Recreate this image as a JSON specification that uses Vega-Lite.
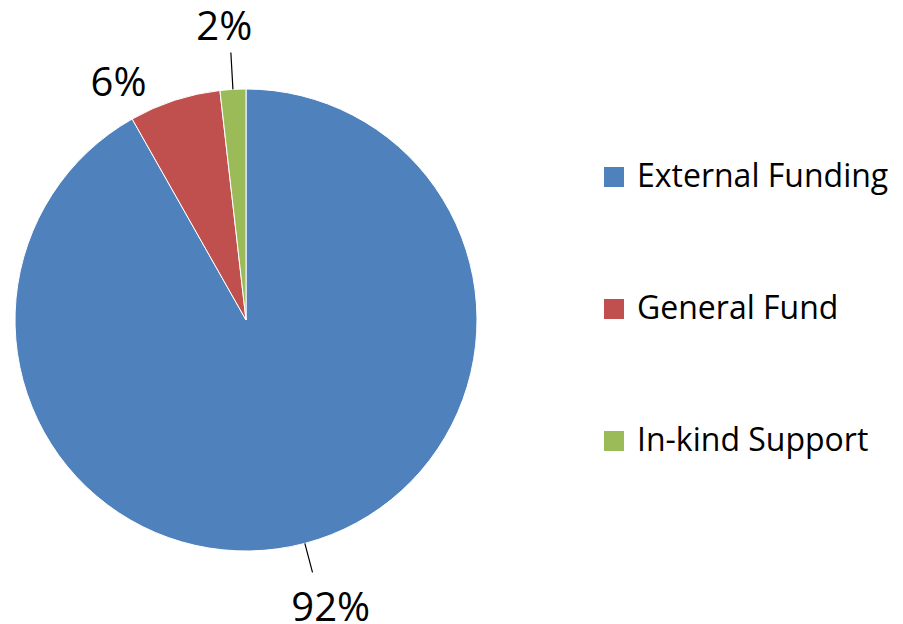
{
  "$schema": "https://vega.github.io/schema/vega-lite/v6.json",
  "width": 492,
  "height": 600,
  "autosize": {"type": "none"},
  "padding": {"left": 0, "top": 20, "right": 411, "bottom": 4},
  "background": "white",
  "config": {"view": {"stroke": null}},
  "data": {
    "values": [
      {"category": "External Funding", "value": 91.8, "label": "92%"},
      {"category": "General Fund", "value": 6.4, "label": "6%"},
      {"category": "In-kind Support", "value": 1.8, "label": "2%"}
    ]
  },
  "layer": [
    {
      "mark": {"type": "arc", "outerRadius": 231, "stroke": "white", "strokeWidth": 1},
      "encoding": {
        "theta": {"field": "value", "type": "quantitative", "stack": true, "scale": {"domain": [0, 100]}},
        "order": {"field": "category", "type": "nominal", "sort": "ascending"},
        "color": {
          "field": "category",
          "type": "nominal",
          "scale": {
            "domain": ["External Funding", "General Fund", "In-kind Support"],
            "range": ["#4F81BD", "#C0504D", "#9BBB59"]
          },
          "legend": {
            "title": null,
            "orient": "none",
            "legendX": 598,
            "legendY": 141,
            "padding": 0,
            "symbolType": "square",
            "symbolSize": 400,
            "symbolStrokeWidth": 0,
            "symbolOpacity": 1,
            "labelFontSize": 32,
            "labelFont": "Open Sans",
            "labelColor": "#000",
            "labelOffset": 7,
            "labelLimit": 400,
            "rowPadding": 100
          }
        }
      }
    },
    {
      "transform": [
        {"stack": "value", "groupby": [], "sort": [{"field": "category", "order": "ascending"}], "as": ["v0", "v1"]},
        {"fold": ["v0", "v1"], "as": ["edge", "pos"]},
        {"aggregate": [{"op": "mean", "field": "pos", "as": "mid"}], "groupby": ["category"]},
        {"filter": "datum.category === 'External Funding'"}
      ],
      "mark": {"type": "arc", "radius": 261, "radius2": 231, "filled": false, "stroke": "#000", "strokeWidth": 1.2},
      "encoding": {
        "theta": {"field": "mid", "type": "quantitative", "scale": {"domain": [0, 100]}},
        "theta2": {"field": "mid"}
      }
    },
    {
      "transform": [
        {"stack": "value", "groupby": [], "sort": [{"field": "category", "order": "ascending"}], "as": ["v0", "v1"]},
        {"fold": ["v0", "v1"], "as": ["edge", "pos"]},
        {"aggregate": [{"op": "mean", "field": "pos", "as": "mid"}], "groupby": ["category"]},
        {"filter": "datum.category === 'In-kind Support'"}
      ],
      "mark": {"type": "arc", "radius": 268, "radius2": 231, "filled": false, "stroke": "#000", "strokeWidth": 1.2},
      "encoding": {
        "theta": {"field": "mid", "type": "quantitative", "scale": {"domain": [0, 100]}},
        "theta2": {"field": "mid"}
      }
    },
    {
      "mark": {"type": "text", "radius": 297, "dx": 9, "dy": 2, "fontSize": 40, "font": "Open Sans", "color": "#000", "align": "center", "baseline": "middle"},
      "encoding": {
        "theta": {"field": "value", "type": "quantitative", "stack": true, "scale": {"domain": [0, 100]}},
        "order": {"field": "category", "type": "nominal", "sort": "ascending"},
        "text": {"condition": {"test": "datum.category === 'External Funding'", "field": "label", "type": "nominal"}, "value": ""}
      }
    },
    {
      "mark": {"type": "text", "radius": 270, "dx": -44, "dy": 21, "fontSize": 40, "font": "Open Sans", "color": "#000", "align": "center", "baseline": "middle"},
      "encoding": {
        "theta": {"field": "value", "type": "quantitative", "stack": true, "scale": {"domain": [0, 100]}},
        "order": {"field": "category", "type": "nominal", "sort": "ascending"},
        "text": {"condition": {"test": "datum.category === 'General Fund'", "field": "label", "type": "nominal"}, "value": ""}
      }
    },
    {
      "mark": {"type": "text", "radius": 295, "dx": -5, "dy": 3, "fontSize": 40, "font": "Open Sans", "color": "#000", "align": "center", "baseline": "middle"},
      "encoding": {
        "theta": {"field": "value", "type": "quantitative", "stack": true, "scale": {"domain": [0, 100]}},
        "order": {"field": "category", "type": "nominal", "sort": "ascending"},
        "text": {"condition": {"test": "datum.category === 'In-kind Support'", "field": "label", "type": "nominal"}, "value": ""}
      }
    }
  ]
}
